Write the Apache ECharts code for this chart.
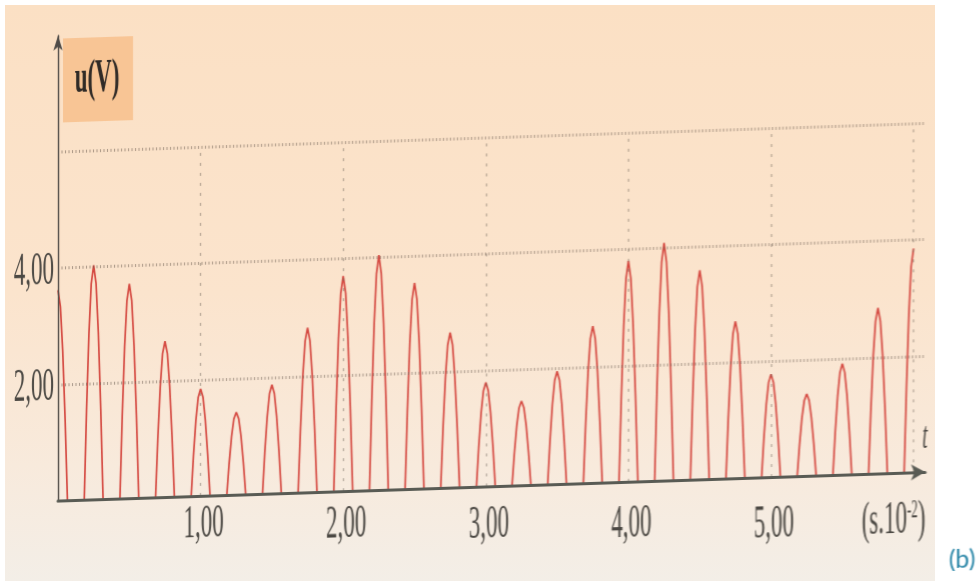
<!DOCTYPE html>
<html>
<head>
<meta charset="utf-8">
<script src="https://cdn.jsdelivr.net/npm/echarts@6/dist/echarts.min.js"></script>
<style>
  html, body { margin: 0; padding: 0; background: #fff; }
  #paper {
    position: absolute; left: 5px; top: 5px; width: 930px; height: 576px;
    background: linear-gradient(to bottom, #fbe0c4 0%, #fbe4cd 50%, #f8eadc 80%, #f3eee7 100%);
  }
  /* the scanned figure leans: horizontals rise to the right, verticals stay upright */
  #main {
    position: absolute; left: 0; top: 0; width: 979px; height: 586px;
    transform: skewY(-1.89deg); transform-origin: 500px 0px;
  }
</style>
</head>
<body>
<div id="paper"></div>
<div id="main"></div>
<script>
// peaks of the rectified signal (time in 10^-2 s, u in V)
var peakTimes = [0, 0.25, 0.5, 0.75, 1, 1.25, 1.5, 1.75, 2, 2.25, 2.5, 2.75, 3,
                 3.25, 3.5, 3.75, 4, 4.25, 4.5, 4.75, 5, 5.25, 5.5, 5.75, 6];
var peakVolts = [3.62, 4.03, 3.69, 2.68, 1.84, 1.42, 1.87, 2.83, 3.70, 4.04, 3.54, 2.67, 1.79,
                 1.45, 1.94, 2.70, 3.80, 4.09, 3.60, 2.70, 1.77, 1.41, 1.91, 2.85, 3.85];
// one hump: offset from its peak and fraction of the peak
var humpOffsets = [-0.066, -0.05, -0.033, -0.017, 0, 0.017, 0.033, 0.05, 0.066];
var humpShape = [0, 0.38, 0.71, 0.92, 1, 0.92, 0.71, 0.38, 0];

var gridVolts = [2, 4, 6];
var gridTimes = [1, 2, 3, 4, 5, 6];
var yTickValues = [2, 4];
var yTickLabels = ['2,00', '4,00'];
var xTickValues = [1, 2, 3, 4, 5];
var xTickLabels = ['1,00', '2,00', '3,00', '4,00', '5,00'];
var unitValue = 6;
var yName = 'u(V)';
var xName = 't';
var figTag = '(b)';

var SKEW = 0.033, SKEW_X0 = 500;
function postY(x, y) {
    // page y -> y inside the skewed canvas
    return y + SKEW * (x - SKEW_X0);
}

var chart = echarts.init(document.getElementById('main'));

var data = [];
var tFirst = peakTimes[0], tLast = peakTimes[peakTimes.length - 1];
for (var i = 0; i < peakTimes.length; i++) {
    for (var j = 0; j < humpOffsets.length; j++) {
        var t = peakTimes[i] + humpOffsets[j];
        if (t < tFirst - 1e-9 || t > tLast + 1e-9) continue;
        data.push([+t.toFixed(4), +(peakVolts[i] * humpShape[j]).toFixed(3)]);
    }
}

var gridLines = [];
for (var i = 0; i < gridVolts.length; i++) {
    gridLines.push({
        yAxis: gridVolts[i],
        lineStyle: {color: 'rgba(100,85,75,0.55)', width: 3, type: [1, 2.5]}
    });
}
for (var i = 0; i < gridTimes.length; i++) {
    gridLines.push([
        {coord: [gridTimes[i], 0], lineStyle: {color: 'rgba(110,100,90,0.5)', width: 1.2, type: [3, 7]}},
        {coord: [gridTimes[i], gridVolts[gridVolts.length - 1]]}
    ]);
}

var option = {
    animation: false,
    backgroundColor: 'transparent',
    grid: {left: 58, top: 21, width: 867, height: 465},
    xAxis: {
        type: 'value', min: 0, max: 6.08, z: 5,
        axisLine: {onZero: true, symbol: ['none', 'arrow'], symbolSize: [12, 14],
                   lineStyle: {color: '#595b54', width: 3}},
        axisTick: {show: false},
        axisLabel: {show: false},
        splitLine: {show: false}
    },
    yAxis: {
        type: 'value', min: 0, max: 8, z: 5,
        axisLine: {show: true, symbol: ['none', 'arrow'], symbolSize: [7, 15],
                   lineStyle: {color: '#4f4b47', width: 1.4}},
        axisTick: {show: false},
        axisLabel: {show: false},
        splitLine: {show: false}
    },
    series: [{
        type: 'line',
        data: data,
        showSymbol: false,
        lineStyle: {color: '#d4473f', width: 1.7},
        markLine: {
            silent: true,
            symbol: ['none', 'none'],
            label: {show: false},
            data: gridLines
        }
    }]
};
chart.setOption(option);

// labels, condensed like the printed figure
var serif = 'Liberation Serif';
var ink = '#4b4843';
var g = [];
function txt(x, y, text, opt) {
    var el = {
        type: 'text', x: x, y: y, scaleX: opt.scaleX || 0.5, z: 10,
        style: {
            text: text, fill: opt.fill || ink,
            fontFamily: opt.fontFamily || serif, fontSize: opt.fontSize || 46,
            fontWeight: opt.fontWeight || 'normal', fontStyle: opt.fontStyle || 'normal',
            align: opt.align || 'center', verticalAlign: 'middle',
            textAlign: opt.align || 'center', textVerticalAlign: 'middle'
        }
    };
    if (opt.rich) el.style.rich = opt.rich;
    return el;
}

var x0 = chart.convertToPixel({xAxisIndex: 0}, 0);
var yTop = chart.convertToPixel({yAxisIndex: 0}, 8);

for (var i = 0; i < yTickValues.length; i++) {
    var py = chart.convertToPixel({yAxisIndex: 0}, yTickValues[i]);
    g.push(txt(x0 - 4, py + 3, yTickLabels[i], {align: 'right'}));
}
for (var i = 0; i < xTickValues.length; i++) {
    var px = chart.convertToPixel({xAxisIndex: 0}, xTickValues[i]) + 3;
    g.push(txt(px, postY(px, 525), xTickLabels[i], {}));
}
var ux = chart.convertToPixel({xAxisIndex: 0}, unitValue) - 20;
g.push(txt(ux, postY(ux, 521), '(s.10{sup|-2})', {
    rich: {sup: {fontFamily: serif, fontSize: 26, verticalAlign: 'top', fill: ink}}
}));
var tx = chart.convertToPixel({xAxisIndex: 0}, 6.08);
g.push(txt(tx, postY(tx, 438), xName, {fontSize: 38, fontStyle: 'italic'}));

// u(V) tag in its orange box
g.push({
    type: 'rect', z: 9,
    shape: {x: x0 + 5, y: yTop + 3, width: 70, height: 84},
    style: {fill: '#f8c595'}
});
g.push(txt(x0 + 39, yTop + 45, yName, {fontWeight: 'bold', fill: '#2f2a26'}));

g.push(txt(962, postY(962, 560), figTag, {scaleX: 1, fontFamily: 'Lato', fontSize: 25, fill: '#2b87a8'}));

chart.setOption({graphic: {elements: g}});
</script>
</body>
</html>
